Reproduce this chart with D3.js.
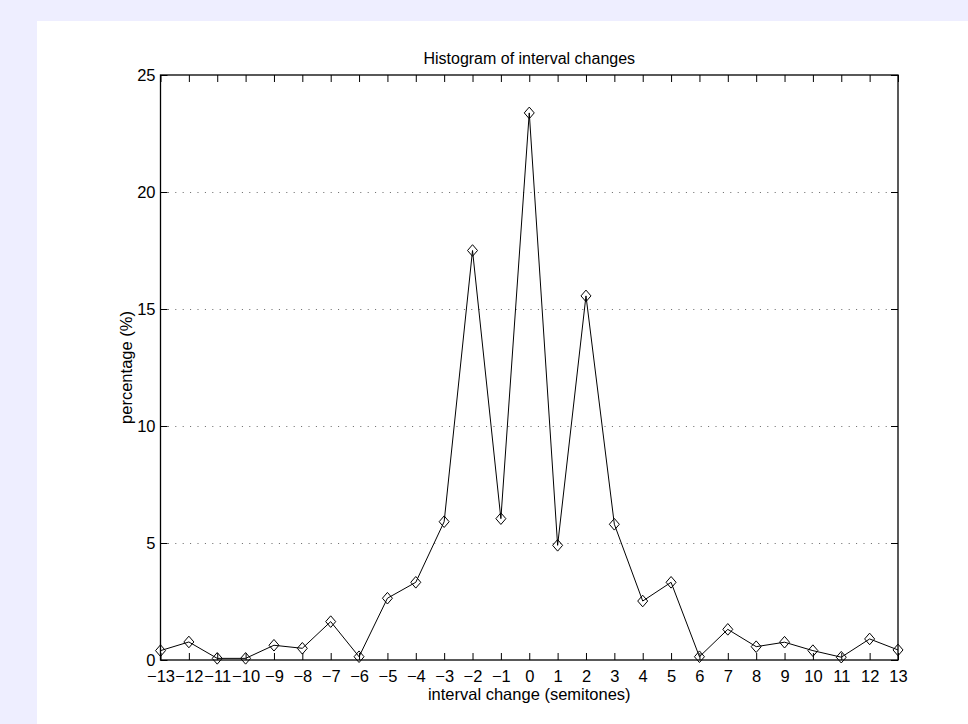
<!DOCTYPE html>
<html>
<head>
<meta charset="utf-8">
<script src="https://cdn.jsdelivr.net/npm/d3@7/dist/d3.min.js"></script>
<style>
  html, body { margin: 0; padding: 0; background: #eeeeff; }
  svg { display: block; }
  text { font-family: "Liberation Sans", Arial, Helvetica, sans-serif; fill: #000; }
</style>
</head>
<body>
<svg id="chart" width="968" height="724"></svg>
<script>
// Data
const intervals = [-13,-12,-11,-10,-9,-8,-7,-6,-5,-4,-3,-2,-1,0,1,2,3,4,5,6,7,8,9,10,11,12,13];
const percentages = [0.40,0.77,0.07,0.07,0.63,0.50,1.64,0.14,2.64,3.32,5.91,17.5,6.04,23.38,4.9,15.56,5.8,2.52,3.32,0.14,1.31,0.57,0.76,0.40,0.12,0.90,0.43];
const yTicks = [0,5,10,15,20,25];
const titleText = "Histogram of interval changes";
const xLabelText = "interval change (semitones)";
const yLabelText = "percentage (%)";

(function () {
const svg = d3.select("#chart");
const W = 968, H = 724;
const pL = 160.5, pR = 898, pT = 75, pB = 660;
const FONT = '"Liberation Sans", Arial, Helvetica, sans-serif';

svg.append("rect").attr("x", 0).attr("y", 0).attr("width", W).attr("height", H).attr("fill", "#eeeeff");
svg.append("rect").attr("x", 37).attr("y", 21).attr("width", W - 37).attr("height", H - 21).attr("fill", "#ffffff");

const x = d3.scaleLinear().domain([-13, 13]).range([pL, pR]);
const y = d3.scaleLinear().domain([0, 25]).range([pB, pT]);

const fmt = d => (d < 0 ? "\u2212" + Math.abs(d) : String(d));

// grid lines
svg.append("g")
  .selectAll("line")
  .data(yTicks.filter(d => d > 0 && d < 25))
  .join("line")
  .attr("x1", pL).attr("x2", pR)
  .attr("y1", d => Math.round(y(d)) + 0.5).attr("y2", d => Math.round(y(d)) + 0.5)
  .attr("stroke", "#666")
  .attr("stroke-width", 1)
  .attr("stroke-dasharray", "1,6.4");

// axes with inward ticks
const tickLen = 7;
const xb = svg.append("g").attr("transform", `translate(0,${pB})`)
  .call(d3.axisBottom(x).tickValues(intervals).tickSize(-tickLen).tickPadding(10).tickFormat(fmt));
const xt = svg.append("g").attr("transform", `translate(0,${pT})`)
  .call(d3.axisTop(x).tickValues(intervals).tickSize(-tickLen).tickFormat(""));
const yl = svg.append("g").attr("transform", `translate(${pL},0)`)
  .call(d3.axisLeft(y).tickValues(yTicks).tickSize(-tickLen).tickPadding(5).tickFormat(fmt));
const yr = svg.append("g").attr("transform", `translate(${pR},0)`)
  .call(d3.axisRight(y).tickValues(yTicks).tickSize(-tickLen).tickFormat(""));

[xb, xt, yl, yr].forEach(g => {
  g.select(".domain").remove();
  g.selectAll(".tick line").attr("stroke", "#000").attr("stroke-width", 1);
  g.selectAll(".tick text").style("font-size", "16.5px").attr("fill", "#000")
    .style("font-family", FONT);
});

// box
svg.append("rect")
  .attr("x", pL).attr("y", pT)
  .attr("width", pR - pL).attr("height", pB - pT)
  .attr("fill", "none").attr("stroke", "#000").attr("stroke-width", 1.3);

// line
const data = intervals.map((d, i) => ({ x: d, y: percentages[i] }));
svg.append("path")
  .datum(data)
  .attr("fill", "none")
  .attr("stroke", "#000")
  .attr("stroke-width", 1)
  .attr("d", d3.line().x(d => x(d.x)).y(d => y(d.y)));

// diamond markers
const hw = 5, hh = 5.8;
svg.append("g")
  .selectAll("path")
  .data(data)
  .join("path")
  .attr("transform", d => `translate(${x(d.x)},${y(d.y)})`)
  .attr("d", `M0,${-hh}L${hw},0L0,${hh}L${-hw},0Z`)
  .attr("fill", "none")
  .attr("stroke", "#000")
  .attr("stroke-width", 1);

// title & labels
svg.append("text").attr("x", (pL + pR) / 2).attr("y", 64)
  .attr("text-anchor", "middle").style("font-size", "16px").text(titleText);
svg.append("text").attr("x", (pL + pR) / 2).attr("y", 700)
  .attr("text-anchor", "middle").style("font-size", "16.5px").text(xLabelText);
svg.append("text")
  .attr("transform", `translate(131.5,${(pT + pB) / 2}) rotate(-90)`)
  .attr("text-anchor", "middle").style("font-size", "16.5px").text(yLabelText);
})();
</script>
</body>
</html>
